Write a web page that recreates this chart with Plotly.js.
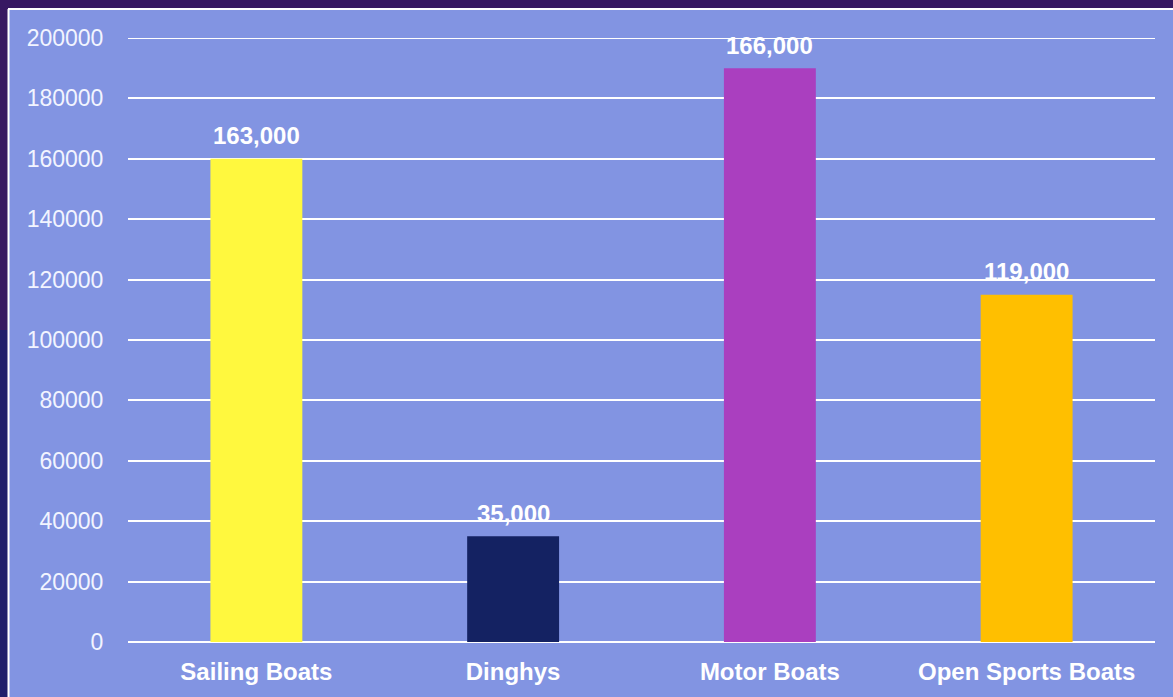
<!DOCTYPE html>
<html>
<head>
<meta charset="utf-8">
<script src="https://cdn.plot.ly/plotly-3.0.1.min.js"></script>
<style>html,body{margin:0;padding:0;background:#371862;}#chart{width:1173px;height:697px;}</style>
</head>
<body>
<div id="chart"></div>
<script>
const categories = ["Sailing Boats", "Dinghys", "Motor Boats", "Open Sports Boats"];
const values = [160000, 35000, 190000, 115000];
const valueLabels = ["163,000", "35,000", "166,000", "119,000"];
const barColors = ["#FFF83E", "#142262", "#AA3FBF", "#FFBF00"];
const yTicks = [0, 20000, 40000, 60000, 80000, 100000, 120000, 140000, 160000, 180000, 200000];

const FONT = "Liberation Sans, Arial, sans-serif";

const trace = {
  type: "bar",
  x: categories,
  y: values,
  marker: {color: barColors, line: {width: 0}},
  hoverinfo: "skip",
  cliponaxis: false
};

const annotations = categories.map((c, i) => ({
  x: c, y: values[i], xref: "x", yref: "y",
  text: "<b>" + valueLabels[i] + "</b>",
  showarrow: false, yanchor: "middle", yshift: 23,
  font: {family: FONT, size: 24, color: "#FFFFFF"}
}));

const W = 1027, H = 604, L = 128, B = 642;
const px = v => (v - L) / W;
const py = v => (B - v) / H;

const layout = {
  width: 1173, height: 697,
  margin: {l: 128, r: 18, t: 38, b: 55},
  paper_bgcolor: "#371862",
  plot_bgcolor: "rgba(0,0,0,0)",
  showlegend: false,
  bargap: 0.642,
  xaxis: {
    type: "category",
    showgrid: false, zeroline: false, showline: false,
    ticks: "outside", ticklen: 8, tickcolor: "rgba(0,0,0,0)",
    tickfont: {family: FONT, size: 24, color: "#FFFFFF", weight: "bold"},
    fixedrange: true
  },
  yaxis: {
    range: [0, 200000],
    tickvals: yTicks,
    ticktext: yTicks.map(String),
    showgrid: true, gridcolor: "#FFFFFF", gridwidth: 2,
    zeroline: true, zerolinecolor: "#FFFFFF", zerolinewidth: 2,
    showline: false,
    ticks: "outside", ticklen: 19, tickcolor: "rgba(0,0,0,0)",
    tickfont: {family: FONT, size: 23, color: "#F2F4FF"},
    fixedrange: true
  },
  shapes: [
    {type: "rect", xref: "paper", yref: "paper", layer: "below",
     x0: px(0), x1: px(8), y0: py(697), y1: py(330),
     fillcolor: "#1F1E6B", line: {width: 0}},
    {type: "rect", xref: "paper", yref: "paper", layer: "below",
     x0: px(8), x1: px(1180), y0: py(705), y1: py(9),
     fillcolor: "#8294E2", line: {width: 0}},
    {type: "line", xref: "paper", yref: "paper", layer: "below",
     x0: px(8.5), x1: px(8.5), y0: py(705), y1: py(9),
     line: {color: "#FFFFFF", width: 2}},
    {type: "line", xref: "paper", yref: "paper", layer: "below",
     x0: px(8), x1: px(1180), y0: py(9), y1: py(9),
     line: {color: "#FFFFFF", width: 2}},
    {type: "line", xref: "paper", yref: "y", layer: "below",
     x0: 0, x1: 1, y0: yTicks[yTicks.length - 1], y1: yTicks[yTicks.length - 1],
     line: {color: "#FFFFFF", width: 2}}
  ],
  annotations: annotations
};

Plotly.newPlot("chart", [trace], layout, {displayModeBar: false, staticPlot: true});
</script>
</body>
</html>
